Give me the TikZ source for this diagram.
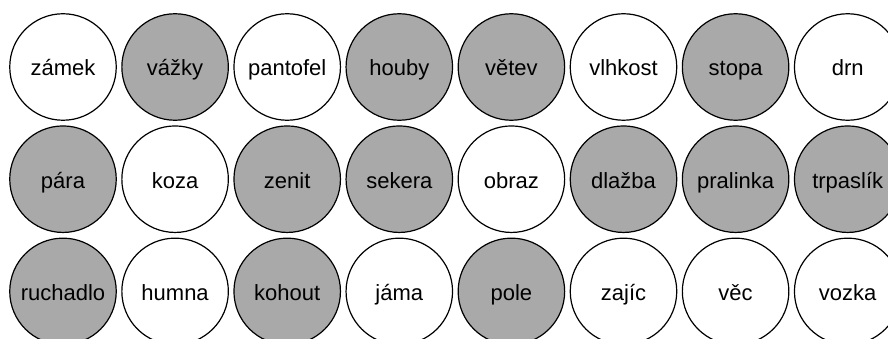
\documentclass[tikz,border=0pt]{standalone}
\usepackage{fontspec}
\setmainfont{Liberation Sans}
\usetikzlibrary{positioning}
\definecolor{shade}{HTML}{A9A9A9}

\begin{document}
\begin{tikzpicture}[
    font=\fontsize{22pt}{26pt}\selectfont,
    node distance=4.5pt and 4.4pt,
    word/.style={
        draw, circle, line width=1.2pt,
        minimum size=106.5pt, inner sep=0pt,
        text height=18pt, text depth=0pt,
        fill=white
    },
    marked/.style={
        word, fill=shade
    }
]

% --- frame: circles on the right and bottom edge are cut ---
\clip (0,0) rectangle (888pt,-339pt);

% --- first column ---
\node[word]   (zamek) at (63pt,-67pt) {zámek};
\node[marked, below=of zamek] (para) {pára};
\node[marked, below=of para]  (ruchadlo) {ruchadlo};

% --- top row ---
\node[marked, right=of zamek]    (vazky)    {vážky};
\node[word,   right=of vazky]    (pantofel) {pantofel};
\node[marked, right=of pantofel] (houby)    {houby};
\node[marked, right=of houby]    (vetev)    {větev};
\node[word,   right=of vetev]    (vlhkost)  {vlhkost};
\node[marked, right=of vlhkost]  (stopa)    {stopa};
\node[word,   right=of stopa]    (drn)      {drn};

% --- middle row ---
\node[word,   right=of para]     (koza)     {koza};
\node[marked, right=of koza]     (zenit)    {zenit};
\node[marked, right=of zenit]    (sekera)   {sekera};
\node[word,   right=of sekera]   (obraz)    {obraz};
\node[marked, right=of obraz]    (dlazba)   {dlažba};
\node[marked, right=of dlazba]   (pralinka) {pralinka};
\node[marked, right=of pralinka] (trpaslik) {trpaslík};

% --- bottom row ---
\node[word,   right=of ruchadlo] (humna)    {humna};
\node[marked, right=of humna]    (kohout)   {kohout};
\node[word,   right=of kohout]   (jama)     {jáma};
\node[marked, right=of jama]     (pole)     {pole};
\node[word,   right=of pole]     (zajic)    {zajíc};
\node[word,   right=of zajic]    (vec)      {věc};
\node[word,   right=of vec]      (vozka)    {vozka};

\end{tikzpicture}
\end{document}
